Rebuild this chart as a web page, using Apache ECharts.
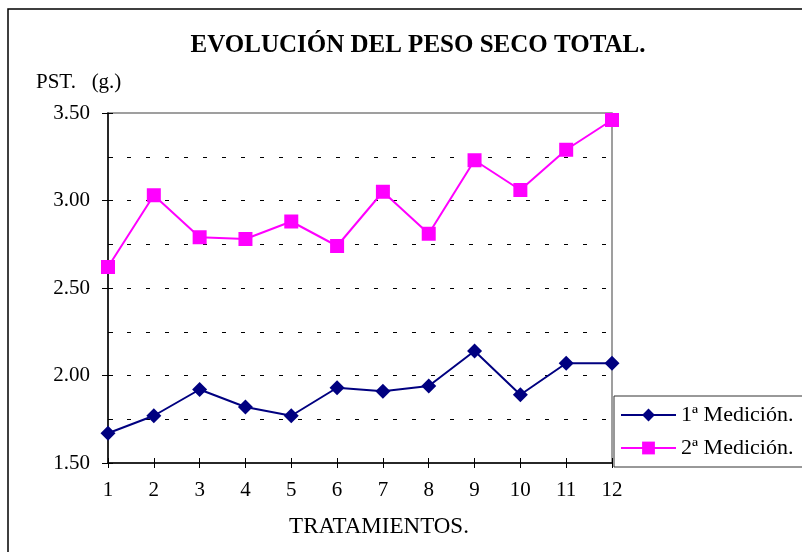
<!DOCTYPE html>
<html>
<head>
<meta charset="utf-8">
<script src="https://cdn.jsdelivr.net/npm/echarts@6/dist/echarts.min.js"></script>
<style>
  html, body { margin: 0; padding: 0; background: #fff; }
  #chart { width: 802px; height: 552px; }
</style>
</head>
<body>
<div id="chart"></div>
<script>
// datos del gráfico
var tratamientos = ['1', '2', '3', '4', '5', '6', '7', '8', '9', '10', '11', '12'];
var medicion1 = [1.67, 1.77, 1.92, 1.82, 1.77, 1.93, 1.91, 1.94, 2.14, 1.89, 2.07, 2.07];
var medicion2 = [2.62, 3.03, 2.79, 2.78, 2.88, 2.74, 3.05, 2.81, 3.23, 3.06, 3.29, 3.46];
var nombres = ['1ª Medición.', '2ª Medición.'];

(function(){
    var myChart = echarts.init(document.getElementById('chart'));
    var fuente = 'Liberation Serif';
    var option = {
        backgroundColor: '#fff',
        animation: false,
        textStyle: { fontFamily: fuente },
        title: [
            {
                text: 'EVOLUCIÓN DEL PESO SECO TOTAL.',
                left: 413, top: 28, textAlign: 'center',
                textStyle: { fontFamily: fuente, fontSize: 25, fontWeight: 'bold', color: '#000' }
            },
            {
                text: 'PST.   (g.)',
                left: 31, top: 67,
                textStyle: { fontFamily: fuente, fontSize: 21, fontWeight: 'normal', color: '#000' }
            },
            {
                text: 'TRATAMIENTOS.',
                left: 374, top: 510, textAlign: 'center',
                textStyle: { fontFamily: fuente, fontSize: 23, fontWeight: 'normal', color: '#000' }
            }
        ],
        // borde exterior
        graphic: [{
            type: 'rect',
            shape: { x: 8, y: 9, width: 900, height: 700 },
            style: { fill: 'none', stroke: '#000', lineWidth: 1.5 },
            silent: true
        }],
        legend: {
            orient: 'vertical',
            left: 614, top: 396,
            padding: [8, 12, 8, 6],
            itemGap: 11,
            itemWidth: 55,
            itemHeight: 16,
            borderColor: '#333',
            borderWidth: 1,
            backgroundColor: '#fff',
            textStyle: { fontFamily: fuente, fontSize: 22, color: '#000' },
            data: nombres
        },
        grid: {
            left: 108, right: 190, top: 113, bottom: 89,
            show: true,
            borderColor: '#808080',
            borderWidth: 1.5
        },
        xAxis: [
            {
                type: 'category',
                data: tratamientos,
                boundaryGap: false,
                axisLine: { lineStyle: { color: '#000', width: 1.5 } },
                axisTick: { length: 5, lineStyle: { color: '#000' } },
                axisLabel: { color: '#000', fontSize: 21, margin: 17 },
                splitLine: { show: false }
            },
            {
                // marcas hacia dentro para que crucen el eje
                type: 'category',
                data: tratamientos,
                boundaryGap: false,
                position: 'bottom',
                axisLine: { show: false },
                axisTick: { inside: true, length: 5, lineStyle: { color: '#000' } },
                axisLabel: { show: false },
                splitLine: { show: false }
            }
        ],
        yAxis: [
            {
                type: 'value',
                min: 1.5,
                max: 3.5,
                interval: 0.5,
                axisLine: { show: true, lineStyle: { color: '#000', width: 1.5 } },
                axisTick: { show: true, length: 6, lineStyle: { color: '#000' } },
                axisLabel: {
                    color: '#000', fontSize: 21, margin: 18,
                    formatter: function(v){ return v.toFixed(2); }
                },
                splitLine: {
                    show: true,
                    showMaxLine: false,
                    showMinLine: false,
                    lineStyle: { color: '#000', type: [4, 15], width: 1 }
                },
                minorTick: { show: false, splitNumber: 2 },
                minorSplitLine: {
                    show: true,
                    lineStyle: { color: '#000', type: [4, 15], width: 1 }
                }
            },
            {
                // marcas interiores cada 0.25
                type: 'value',
                min: 1.5,
                max: 3.5,
                interval: 0.25,
                position: 'left',
                axisLine: { show: false },
                axisTick: { show: true, inside: true, length: 5, lineStyle: { color: '#000' } },
                axisLabel: { show: false },
                splitLine: { show: false }
            }
        ],
        series: [
            {
                name: nombres[0],
                type: 'line',
                data: medicion1,
                symbol: 'diamond',
                symbolSize: 15,
                color: '#000080',
                lineStyle: { width: 2, color: '#000080' },
                itemStyle: { color: '#000080' }
            },
            {
                name: nombres[1],
                type: 'line',
                data: medicion2,
                symbol: 'rect',
                symbolSize: 14,
                color: '#ff00ff',
                lineStyle: { width: 2, color: '#ff00ff' },
                itemStyle: { color: '#ff00ff' }
            }
        ]
    };
    myChart.setOption(option);
    window.addEventListener('resize', function(){
        myChart.resize();
    });
})();
</script>
</body>
</html>
